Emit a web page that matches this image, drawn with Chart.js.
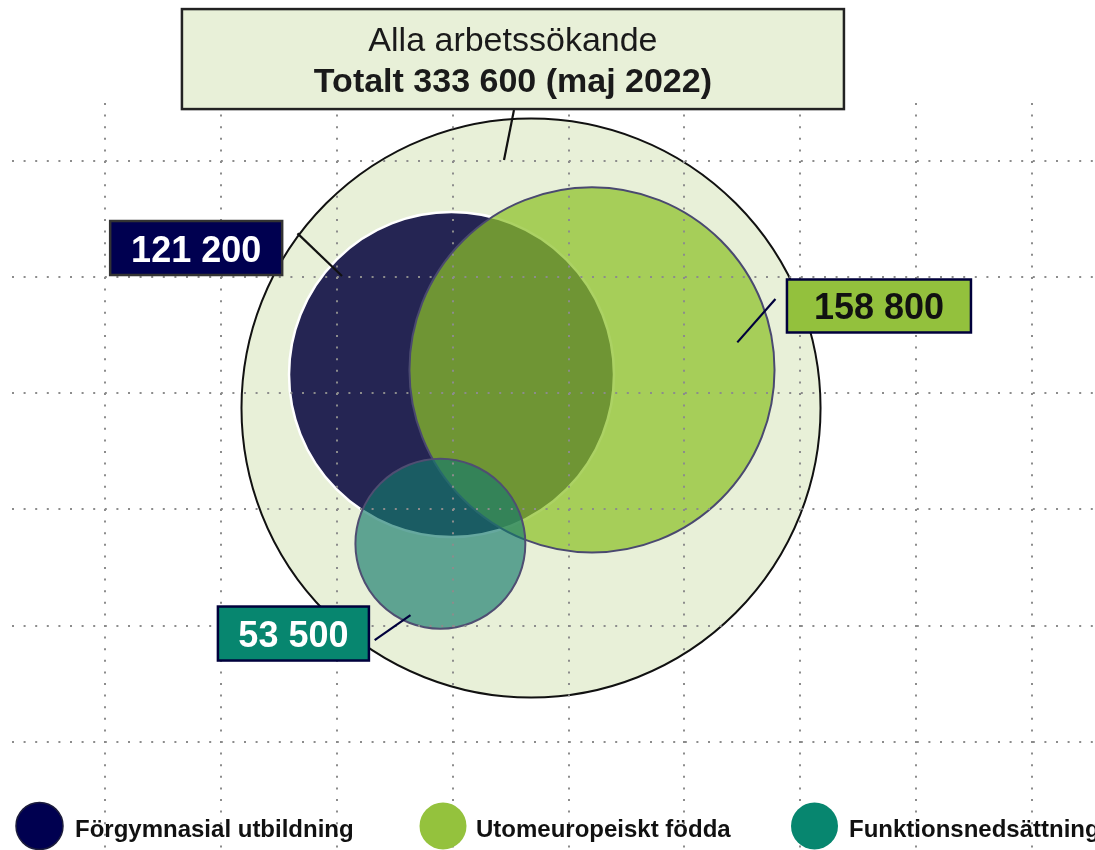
<!DOCTYPE html>
<html lang="sv">
<head>
<meta charset="utf-8">
<title>Alla arbetssökande</title>
<script src="https://cdn.jsdelivr.net/npm/chart.js@4.4.1/dist/chart.umd.min.js"></script>
<style>
  html, body { margin: 0; padding: 0; background: #fff; overflow: hidden; }
  #wrap { width: 1095px; height: 850px; }
</style>
</head>
<body>
<div id="wrap"><canvas id="vennChart" width="1095" height="850"></canvas></div>
<script>
// ---- data ----
const totalLabel = 'Alla arbetssökande';
const totalValue = 333600;
const totalPeriod = 'maj 2022';

const groupLabels = ['Förgymnasial utbildning', 'Utomeuropeiskt födda', 'Funktionsnedsättning'];
const groupValues = [121200, 158800, 53500];

// circles: total first, then the three groups (axis units, one grid square = 1)
const circleX = [3.676, 2.990, 4.202, 2.894];
const circleY = [2.872, 3.160, 3.200, 1.704];
const circleR = [2.498, 1.402, 1.575, 0.733];

const xTicks = [0, 1, 2, 3, 4, 5, 6, 7, 8];
const yTicks = [0, 1, 2, 3, 4, 5];

// ---- styles ----
const FONT = '"Liberation Sans", Arial, sans-serif';
const circleFill = ['#e8f0d8', '#252553', 'rgba(140,193,40,0.72)', 'rgba(20,122,108,0.65)'];
const circleBorder = ['#111111', '#ffffff', '#4a4970', '#4f4e72'];
const circleBorderWidth = [2, 2.5, 2, 2];
const legendColors = ['#000050', '#94c23d', '#07866f'];

function fmt(n) {
    return String(n).replace(/\B(?=(\d{3})+(?!\d))/g, ' ');
}

// callout boxes, anchored in axis units, size in px
const callouts = [
    { cx: 3.520, cy: 5.875, w: 662, h: 100, fill: '#e8f0d8', stroke: '#222', line: [3.529, 5.436, 3.443, 5.006], lineColor: '#111' },
    { cx: 0.787, cy: 4.249, w: 172, h: 54, fill: '#000050', stroke: '#333', color: '#fff', text: fmt(groupValues[0]), line: [1.661, 4.375, 2.045, 4.008], lineColor: '#111' },
    { cx: 6.678, cy: 3.750, w: 184, h: 53, fill: '#93c13d', stroke: '#00003c', color: '#111', text: fmt(groupValues[1]), line: [5.785, 3.810, 5.456, 3.437], lineColor: '#00003c' },
    { cx: 1.626, cy: 0.931, w: 151, h: 54, fill: '#07866f', stroke: '#00003c', color: '#fff', text: fmt(groupValues[2]), line: [2.327, 0.875, 2.636, 1.090], lineColor: '#00003c' }
];

// ---- plugins ----
const calloutPlugin = {
    id: 'callouts',
    afterDraw(chart) {
        const ctx = chart.ctx;
        const xs = chart.scales.x, ys = chart.scales.y;
        callouts.forEach((c, i) => {
            const x = xs.getPixelForValue(c.cx);
            const y = ys.getPixelForValue(c.cy);
            ctx.save();
            // connector
            ctx.strokeStyle = c.lineColor;
            ctx.lineWidth = 2.2;
            ctx.beginPath();
            ctx.moveTo(xs.getPixelForValue(c.line[0]), ys.getPixelForValue(c.line[1]));
            ctx.lineTo(xs.getPixelForValue(c.line[2]), ys.getPixelForValue(c.line[3]));
            ctx.stroke();
            // box
            ctx.fillStyle = c.fill;
            ctx.fillRect(x - c.w / 2, y - c.h / 2, c.w, c.h);
            ctx.strokeStyle = c.stroke;
            ctx.lineWidth = 2.5;
            ctx.strokeRect(x - c.w / 2, y - c.h / 2, c.w, c.h);
            ctx.textAlign = 'center';
            ctx.textBaseline = 'alphabetic';
            if (i === 0) {
                ctx.fillStyle = '#1a1a1a';
                ctx.font = '34px ' + FONT;
                ctx.fillText(totalLabel, x, y - 8);
                ctx.font = 'bold 34px ' + FONT;
                ctx.fillText('Totalt ' + fmt(totalValue) + ' (' + totalPeriod + ')', x, y + 33);
            } else {
                ctx.fillStyle = c.color;
                ctx.font = 'bold 36px ' + FONT;
                ctx.fillText(c.text, x, y + 13.5);
            }
            ctx.restore();
        });
    }
};

const legendPos = { y: 826, r: 23.5, circleX: [39.5, 443, 814.5], textX: [75, 476, 849] };

const legendPlugin = {
    id: 'bottomLegend',
    afterDraw(chart) {
        const ctx = chart.ctx;
        ctx.save();
        groupLabels.forEach((label, i) => {
            ctx.beginPath();
            ctx.arc(legendPos.circleX[i], legendPos.y, legendPos.r, 0, Math.PI * 2);
            ctx.fillStyle = legendColors[i];
            ctx.fill();
            if (i === 0) {
                ctx.strokeStyle = '#1c1c3c';
                ctx.lineWidth = 1.5;
                ctx.stroke();
            }
            ctx.fillStyle = '#111';
            ctx.font = 'bold 24px ' + FONT;
            ctx.textAlign = 'left';
            ctx.textBaseline = 'alphabetic';
            ctx.fillText(label, legendPos.textX[i], legendPos.y + 11);
        });
        ctx.restore();
    }
};

// point radius given in axis units -> pixels
function radiusPx(ctx) {
    const s = ctx.chart.scales.x;
    const i = ctx.datasetIndex;
    if (!s || i === undefined) return 0;
    const r = Math.abs(s.getPixelForValue(circleR[i]) - s.getPixelForValue(0));
    return isFinite(r) ? r : 0;
}

const gridOpts = { color: '#8c8c8c', lineWidth: 2, drawTicks: false, z: 1 };
const borderOpts = { display: false, dash: [2, 9.6] };

const datasets = circleX.map((x, i) => ({
    label: i === 0 ? totalLabel : groupLabels[i - 1],
    data: [{ x: x, y: circleY[i] }],
    showLine: false,
    pointStyle: 'circle',
    pointBackgroundColor: circleFill[i],
    pointBorderColor: circleBorder[i],
    pointBorderWidth: circleBorderWidth[i],
    pointRadius: radiusPx,
    order: circleX.length - i
}));

new Chart(document.getElementById('vennChart'), {
    type: 'scatter',
    data: { datasets: datasets },
    options: {
        responsive: false,
        animation: false,
        events: [],
        clip: false,
        layout: { padding: { left: 12, top: 103, right: 0, bottom: 0 }, autoPadding: false },
        plugins: { legend: { display: false }, tooltip: { enabled: false } },
        scales: {
            x: {
                type: 'linear', position: 'bottom', min: -0.802, max: 8.542,
                ticks: { display: false }, grid: gridOpts, border: borderOpts,
                afterBuildTicks: s => { s.ticks = xTicks.map(v => ({ value: v })); }
            },
            y: {
                type: 'linear', position: 'left', min: -0.932, max: 5.497,
                ticks: { display: false }, grid: gridOpts, border: borderOpts,
                afterBuildTicks: s => { s.ticks = yTicks.map(v => ({ value: v })); }
            }
        }
    },
    plugins: [calloutPlugin, legendPlugin]
});
</script>
</body>
</html>
